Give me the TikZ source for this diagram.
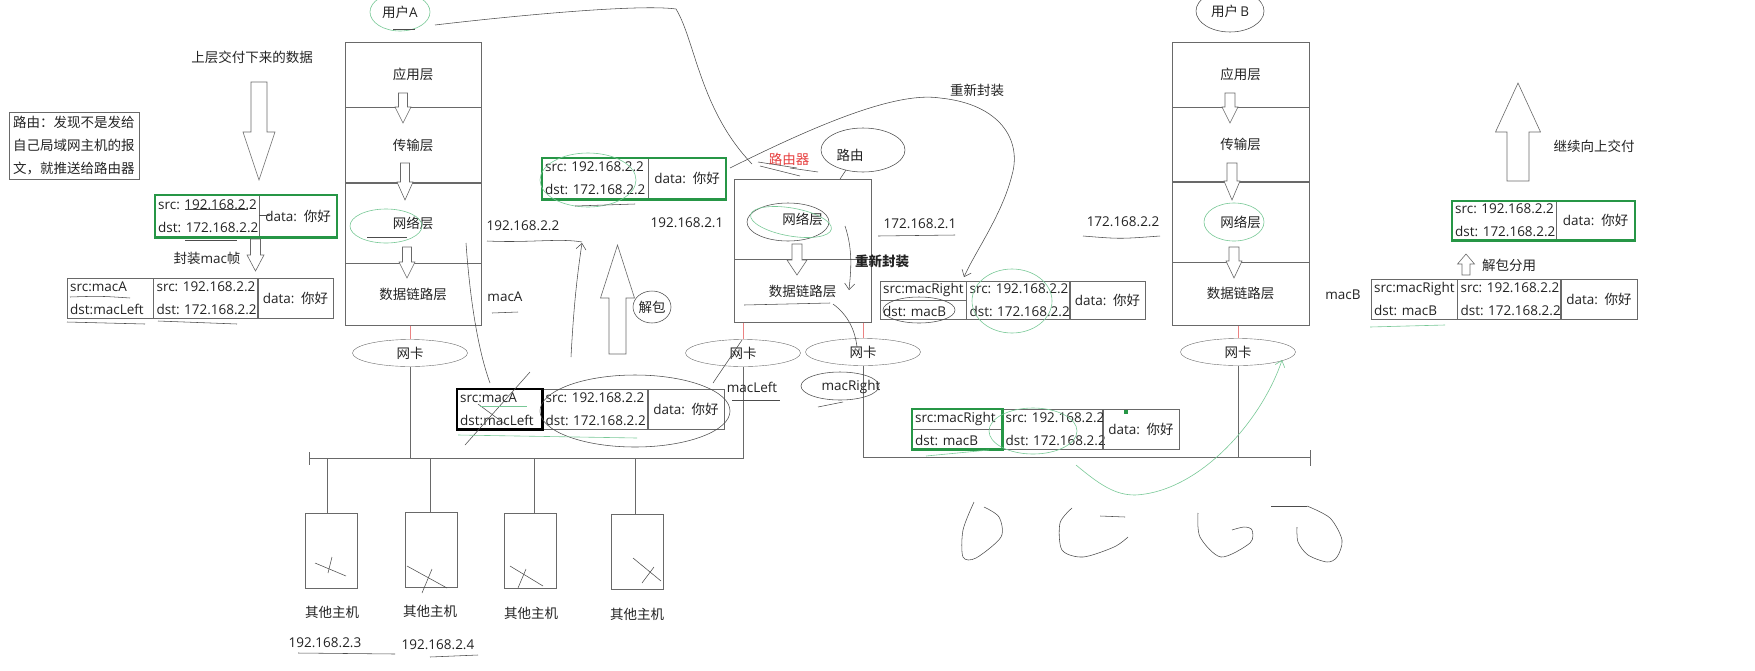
\documentclass[tikz,border=0pt]{standalone}
\usepackage{fontspec}
\setmainfont{Open Sans}
\newfontfamily\cjk{Noto Sans CJK SC}
\usetikzlibrary{positioning,arrows.meta,shapes.geometric}
\definecolor{linec}{RGB}{105,105,105}
\definecolor{textc}{RGB}{35,35,35}
\definecolor{frameg}{RGB}{38,150,70}
\definecolor{handg}{RGB}{120,200,150}
\definecolor{redl}{RGB}{235,130,130}
\definecolor{routerred}{RGB}{230,60,60}
% hollow block arrow: x, y tail, y head base, y tip, half shaft, half head
\newcommand{\hollowarr}[6]{%
  \draw[hollow] ({#1-#5},#2) -- ({#1+#5},#2) -- ({#1+#5},#3) -- ({#1+#6},#3)
    -- (#1,#4) -- ({#1-#6},#3) -- ({#1-#5},#3) -- cycle;}
\newcommand{\ipsd}{src:~192.168.2.2\\dst:~172.168.2.2}
\begin{document}
\fontsize{13.5}{23}\selectfont
\begin{tikzpicture}[x=1pt,y=-1pt,
  every node/.append style={text=textc},
  layer/.style={draw=linec,minimum width=136pt,inner sep=0pt,font=\cjk},
  cell/.style={draw=linec,inner xsep=3pt,inner ysep=0pt,align=left,anchor=north west},
  datacell/.style={cell,align=center},
  nic/.style={draw=linec,ellipse,minimum width=115pt,minimum height=27pt,inner sep=0pt,font=\cjk},
  host/.style={draw=linec,minimum width=52pt,minimum height=75pt,inner sep=0pt},
  lbl/.style={inner sep=1pt},
  hand/.style={draw=black!70,line width=0.55pt},
  handg/.style={draw=handg,line width=0.6pt},
  hollow/.style={draw=linec,fill=white,line width=0.6pt},
  gframe/.style={draw=frameg,line width=2.6pt},
  barb/.style={-{Straight Barb[length=6pt,width=10pt]}}]
\useasboundingbox (0,0) rectangle (1755,670);
% Host A stack
\node[layer,minimum height=65pt,anchor=north west] (a1) at (345,42) {应用层};
\node[layer,minimum height=75pt,anchor=north] (a2) at (a1.south) {传输层};
\node[layer,minimum height=80pt,anchor=north] (a3) at (a2.south) {网络层};
\node[layer,minimum height=62pt,anchor=north] (a4) at (a3.south) {数据链路层};
\hollowarr{403}{93}{107}{123}{4.5}{8}
\hollowarr{405}{163}{182}{200}{4.5}{8}
\hollowarr{407}{247}{262}{278}{4.5}{8}
% Router
\node[layer,minimum width=137pt,minimum height=80pt,anchor=north west] (r1) at (734,179) {网络层};
\node[layer,minimum width=137pt,minimum height=63pt,anchor=north] (r2) at (r1.south) {数据链路层};
\hollowarr{797}{244}{260}{275}{5}{10}
% Host B stack
\node[layer,minimum width=137pt,minimum height=65pt,anchor=north west] (b1) at (1172,42) {应用层};
\node[layer,minimum width=137pt,minimum height=74pt,anchor=north] (b2) at (b1.south) {传输层};
\node[layer,minimum width=137pt,minimum height=80pt,anchor=north] (b3) at (b2.south) {网络层};
\node[layer,minimum width=137pt,minimum height=63pt,anchor=north] (b4) at (b3.south) {数据链路层};
\hollowarr{1230}{93}{107}{123}{5}{8}
\hollowarr{1232}{163}{181}{200}{5}{8}
\hollowarr{1234}{247}{261}{278}{5}{8}
% Network cards
\node[nic] (nicA) at (410,353) {网卡};
\node[nic] (nicL) at (743,353) {网卡};
\node[nic] (nicR) at (863,352) {网卡};
\node[nic] (nicB) at (1238,352) {网卡};
\draw[redl] (a4.south -| nicA.north) -- (nicA.north);
\draw[redl] (r2.south -| nicL.north) -- (nicL.north);
\draw[redl] (r2.south -| nicR.north) -- (nicR.north);
\draw[redl] (b4.south -| nicB.north) -- (nicB.north);
% Buses
\coordinate (busL) at (309,458);
\coordinate (busR) at (1310,457);
\draw[linec] (nicL.south) |- (busL);
\draw[linec] (busL) ++(0,-6) -- ++(0,13);
\draw[linec] (nicA.south) -- (nicA.south |- busL);
\draw[linec] (nicR.south) |- (busR);
\draw[linec] (busR) ++(0,-7) -- ++(0,16);
\draw[linec] (nicB.south) -- (nicB.south |- busR);
% Other hosts on the left LAN
\node[host] (o1) at (331,550.5) {};
\node[host] (o2) at (431.5,549.5) {};
\node[host] (o3) at (530.5,551) {};
\node[host] (o4) at (637,551.5) {};
\foreach \h/\x in {o1/327,o2/430,o3/534,o4/635}
  \draw[linec] (\x,458) -- (\x,0 |- \h.north);
\node[lbl,font=\cjk] (o1l) at (332,612) {其他主机};
\node[lbl,font=\cjk] (o2l) at (430,611) {其他主机};
\node[lbl,font=\cjk] (o3l) at (531,613) {其他主机};
\node[lbl,font=\cjk] (o4l) at (637,614) {其他主机};
\node[lbl] (o1ip) at (325,643) {192.168.2.3};
\node[lbl] (o2ip) at (438,645) {192.168.2.4};
% Packet at host A network layer
\node[cell,text width=98pt,minimum height=42pt] (p1ip) at (155,195) {\ipsd};
\node[datacell,text width=71pt,minimum height=42pt] (p1data) at (p1ip.north east) {data: {\cjk 你好}};
\draw[gframe] (p1ip.north west) rectangle (p1data.south east);
% Frame built by host A
\node[cell,text width=80pt,minimum height=40pt] (f2mac) at (67,278) {src:macA\\dst:macLeft};
\node[cell,text width=98pt,minimum height=40pt] (f2ip) at (f2mac.north east) {\ipsd};
\node[datacell,text width=69pt,minimum height=40pt] (f2data) at (f2ip.north east) {data: {\cjk 你好}};
% Packet unpacked in router
\node[cell,text width=100pt,minimum height=41pt] (p3ip) at (542,158) {\ipsd};
\node[datacell,text width=71pt,minimum height=41pt] (p3data) at (p3ip.north east) {data: {\cjk 你好}};
\draw[gframe] (p3ip.north west) rectangle (p3data.south east);
% Frame on the left LAN
\node[cell,text width=79pt,minimum height=40pt] (f4mac) at (457,389) {src:macA\\dst:macLeft};
\node[cell,text width=99pt,minimum height=40pt] (f4ip) at (f4mac.north east) {\ipsd};
\node[datacell,text width=70pt,minimum height=40pt] (f4data) at (f4ip.north east) {data: {\cjk 你好}};
\draw[line width=2.6pt] (f4mac.north west) rectangle (f4mac.south east);
% Frame re-encapsulated by router
\node[cell,text width=80pt,minimum height=38pt] (f5mac) at (880,281) {src:macRight\\dst:~macB};
\node[cell,text width=97pt,minimum height=38pt] (f5ip) at (f5mac.north east) {\ipsd};
\node[datacell,text width=69pt,minimum height=38pt] (f5data) at (f5ip.north east) {data: {\cjk 你好}};
\draw[linec] (f5mac.west) -- (f5mac.east);
% Frame on the right LAN
\node[cell,text width=84pt,minimum height=40pt] (f7mac) at (912,409) {src:macRight\\dst:~macB};
\node[cell,text width=94pt,minimum height=40pt] (f7ip) at (f7mac.north east) {\ipsd};
\node[datacell,text width=70pt,minimum height=40pt] (f7data) at (f7ip.north east) {data: {\cjk 你好}};
\draw[linec] (f7mac.west) -- (f7mac.east);
\draw[gframe] (f7mac.north west) rectangle (f7mac.south east);
\fill[frameg] (1124,410) rectangle (1128,414);
% Frame received by host B
\node[cell,text width=80pt,minimum height=40pt] (f6mac) at (1371,279) {src:macRight\\dst:~macB};
\node[cell,text width=97pt,minimum height=40pt] (f6ip) at (f6mac.north east) {\ipsd};
\node[datacell,text width=70pt,minimum height=40pt] (f6data) at (f6ip.north east) {data: {\cjk 你好}};
% Packet delivered up in host B
\node[cell,text width=98pt,minimum height=39pt] (p8ip) at (1452,201) {\ipsd};
\node[datacell,text width=72pt,minimum height=39pt] (p8data) at (p8ip.north east) {data: {\cjk 你好}};
\draw[gframe] (p8ip.north west) rectangle (p8data.south east);
% Block arrows
\hollowarr{259}{82}{132}{180}{8}{16}
\hollowarr{255.5}{239}{255}{271}{5}{8.5}
\hollowarr{617.5}{354}{298}{245}{8.5}{17}
\hollowarr{1518}{181}{132}{83}{11}{22.5}
\hollowarr{1466}{275}{264}{254}{4}{8.5}
% Labels
\node[lbl,font=\cjk] (topdata) at (252,57) {上层交付下来的数据};
\node[draw=linec,align=left,font=\cjk,inner xsep=4pt,inner ysep=4pt,anchor=north west] (note) at (9,112) {路由：发现不是发给\\自己局域网主机的报\\文，就推送给路由器};
\node[lbl] (encap) at (207,258) {{\cjk 封装}mac{\cjk 帧}};
\node[lbl] (userA) at (400,12) {{\cjk 用户}A};
\node[lbl] (userB) at (1230,11) {{\cjk 用户}\,B};
\node[lbl] (ipA) at (523,226) {192.168.2.2};
\node[lbl] (macA) at (505,297) {macA};
\node[lbl] (ipRL) at (687,223) {192.168.2.1};
\node[lbl] (ipRR) at (920,224) {172.168.2.1};
\node[lbl] (ipB) at (1123,222) {172.168.2.2};
\node[lbl] (macL) at (752,387) {macLeft};
\node[lbl] (macR) at (851,387) {macRight};
\node[lbl] (macB) at (1343,295) {macB};
\node[lbl,font=\cjk,text=routerred] (rname) at (789,159) {路由器};
\node[lbl,font=\cjk] (routing) at (850,155) {路由};
\node[lbl,font=\cjk] (reencap) at (977,90) {重新封装};
\node[lbl,font=\cjk\bfseries] (reencapb) at (882,261) {重新封装};
\node[lbl,font=\cjk] (unpack) at (652,307) {解包};
\node[lbl,font=\cjk] (upward) at (1594,146) {继续向上交付};
\node[lbl,font=\cjk] (demux) at (1509,265) {解包分用};
% Hand drawn marks: host A side
\draw[handg] (userA) ellipse [x radius=30pt,y radius=19pt];
\draw[hand] (393,29) -- (415,29);
\draw[hand] (435,25) .. controls (520,15) and (640,4) .. (676,9) .. controls (695,40) and (700,110) .. (752,164);
\draw[handg] (386,226) ellipse [x radius=36pt,y radius=17pt];
\draw[hand] (367,237) -- (407,237);
\draw[hand] (185,209) -- (248,209);
\draw[hand] (185,240) -- (237,240);
\draw[hand] (259,215) -- (270,215);
\draw[hand] (70,297) .. controls (100,296) .. (130,298);
\draw[hand] (67,322) -- (145,324);
\draw[hand] (158,321) -- (237,324);
\draw[hand] (466,243) .. controls (470,300) and (478,350) .. (490,383);
\draw[hand] (487,241) .. controls (530,243) and (560,238) .. (582,242);
\draw[hand,barb] (571,357) .. controls (574,300) and (578,270) .. (582,243);
\draw[hand] (492,313) -- (518,312);
\draw[hand] (unpack) ellipse [x radius=19pt,y radius=16pt];
% Hand drawn marks: packet and frame on the left LAN
\draw[handg] (588,180) ellipse [x radius=48pt,y radius=27pt];
\draw[hand] (575,206) -- (635,204);
\draw[hand] (635,411) ellipse [x radius=95pt,y radius=36pt];
\draw[hand] (465,445) -- (530,372);
\draw[hand] (478,404) -- (505,424);
\draw[handg] (480,406) -- (527,406);
\draw[handg] (458,435) -- (637,438);
\draw[hand] (713,383) -- (742,340);
\draw[hand] (732,400) -- (780,400);
% Hand drawn marks: router
\draw[hand] (758,162) -- (797,168);
\draw[hand] (760,166) -- (800,176);
\draw[hand] (790,168) -- (818,172);
\draw[hand] (routing) ++(13,-5) ellipse [x radius=42pt,y radius=22pt];
\draw[hand] (846,170) -- (840,179);
\draw[hand] (788,222) ellipse [x radius=41pt,y radius=19pt];
\draw[handg,rotate around={-10:(791,222)}] (791,222) ellipse [x radius=41pt,y radius=14pt];
\draw[hand,barb] (845,226) .. controls (853,250) and (851,270) .. (849,290);
\draw[hand] (744,305) -- (830,303);
\draw[hand] (833,304) .. controls (848,315) and (855,330) .. (857,347);
\draw[hand] (878,236) -- (955,235);
\draw[hand] (1083,236) .. controls (1120,239) .. (1160,236);
\draw[hand,barb] (730,168) .. controls (830,118) and (900,92) .. (940,98) .. controls (1000,104) and (1022,140) .. (1012,175) .. controls (1002,215) and (975,252) .. (964,277);
\draw[hand] (919,310) ellipse [x radius=36pt,y radius=13pt];
\draw[handg] (1012,301) ellipse [x radius=40pt,y radius=32pt];
\draw[hand] (840,386) ellipse [x radius=39pt,y radius=14pt];
\draw[hand] (818,407) -- (843,402);
% Hand drawn marks: right LAN and host B
\draw[handg] (1033,431) ellipse [x radius=44pt,y radius=23pt];
\draw[handg] (926,456) -- (989,450);
\draw[handg,barb] (1076,465) .. controls (1100,485) and (1115,495) .. (1135,495) .. controls (1200,492) and (1262,420) .. (1282,360);
\draw[handg] (1234,222) ellipse [x radius=30pt,y radius=19pt];
\draw[hand] (userB) ellipse [x radius=34pt,y radius=21pt];
\draw[handg] (1370,327) -- (1445,325);
\draw[hand] plot[smooth] coordinates {(974,502) (963,530) (963,557) (976,558) (1001,537) (999,517) (984,507)};
\draw[hand] plot[smooth] coordinates {(1072,508) (1060,523) (1062,550) (1083,557) (1114,547) (1128,537)};
\draw[hand] (1100,516) -- (1125,517);
\draw[hand] plot[smooth] coordinates {(1198,513) (1200,537) (1221,557) (1250,543) (1252,530) (1244,527) (1232,530)};
\draw[hand] (1271,506) -- (1307,506);
\draw[hand] plot[smooth] coordinates {(1307,506) (1330,518) (1342,540) (1337,557) (1327,562) (1308,555) (1298,542) (1297,527)};
% Hand drawn marks: other hosts
\draw[hand] (315,563) -- (346,576);  \draw[hand] (332,557) -- (328,573);
\draw[hand] (407,566) -- (447,588);  \draw[hand] (432,569) -- (422,593);
\draw[hand] (510,566) -- (543,586);  \draw[hand] (526,569) -- (518,588);
\draw[hand] (633,558) -- (661,581);  \draw[hand] (654,567) -- (642,583);
\draw[hand] (298,653) -- (395,654);
\draw[hand] (430,657) -- (478,655);
\end{tikzpicture}
\end{document}
